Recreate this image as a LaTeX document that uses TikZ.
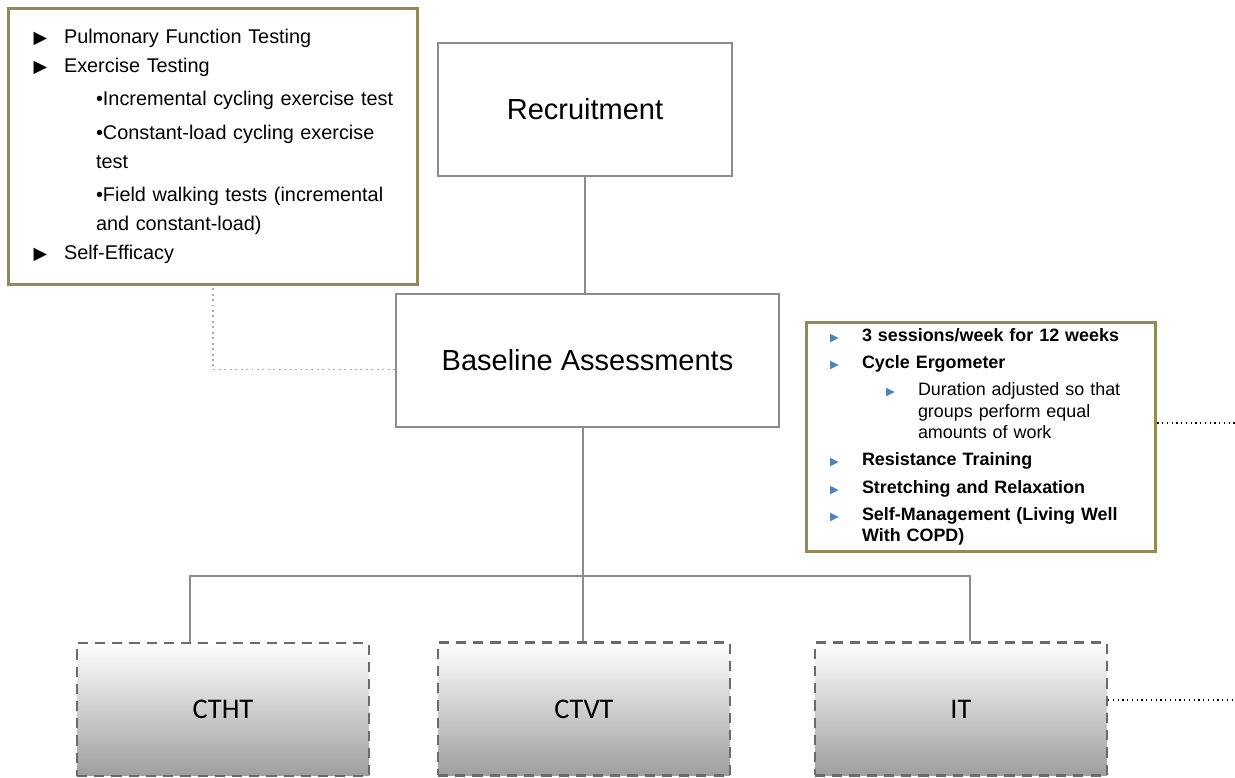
\documentclass[tikz,border=0pt]{standalone}
\usepackage{fontspec}
\setmainfont{Liberation Sans}
\newfontfamily\calibfont{Carlito}
\newfontfamily\symfont{DejaVu Sans}
\definecolor{boxolive}{HTML}{948A54}
\definecolor{boxgray}{HTML}{8C8C8C}
\definecolor{dashgray}{HTML}{6B6B6B}
\definecolor{bulletblue}{HTML}{4F81BD}
\definecolor{dotgray}{HTML}{AAAAAA}
\newcommand{\blacktri}{\makebox[0.77cm][l]{\hspace{0.16cm}{\symfont\fontsize{10}{10}\selectfont ▶}}}
\newcommand{\bluetri}{{\color{bulletblue}\symfont\fontsize{6.5}{6.5}\selectfont ▶}}

\begin{document}
\begin{tikzpicture}[x=0.02cm,y=-0.02cm,
    every node/.style={inner sep=0pt},
    plainbox/.style={draw=boxgray,line width=1.1pt,fill=white,
      font=\fontsize{16.5}{20}\selectfont},
    listbox/.style={draw=boxolive,line width=1.7pt,fill=white,align=left},
    groupbox/.style={draw=dashgray,line width=1.4pt,dash pattern=on 5.8pt off 4pt,
      top color=white,bottom color=black!38,minimum width=5.84cm,minimum height=2.66cm,
      font=\calibfont\fontsize{16.2}{20}\selectfont},
    conn/.style={draw=boxgray,line width=1pt},
    lightdots/.style={draw=dotgray,line width=1.1pt,dotted},
    darkdots/.style={draw=black,line width=0.7pt,dotted}]
  \useasboundingbox (0,0) rectangle (1235,778);
  % boxes
  \draw
    (213,146.5) node[listbox,minimum width=8.2cm,minimum height=5.54cm,text width=7.5cm,
      font=\fontsize{11.3}{16.5}\selectfont] (asmt) {%
      \blacktri Pulmonary Function Testing\\
      \blacktri Exercise Testing\\[2.5pt]
      \hspace*{1.41cm}•Incremental cycling exercise test\\[2.5pt]
      \hspace*{1.41cm}•Constant-load cycling exercise\\
      \hspace*{1.41cm}test\\[2.5pt]
      \hspace*{1.41cm}•Field walking tests (incremental\\
      \hspace*{1.41cm}and constant-load)\\
      \blacktri Self-Efficacy}
    (585,109.5) node[plainbox,minimum width=5.88cm,minimum height=2.66cm] (recr) {Recruitment}
    (587.5,360.5) node[plainbox,minimum width=7.66cm,minimum height=2.66cm] (base) {Baseline Assessments}
    (981,437) node[listbox,minimum width=7cm,minimum height=4.6cm,text width=6.2cm,
      font=\fontsize{10.2}{12.2}\selectfont] (interv) {%
      \makebox[0.72cm][l]{\hspace{0.08cm}\bluetri}\textbf{3 sessions/week for 12 weeks}\\[3.3pt]
      \makebox[0.72cm][l]{\hspace{0.08cm}\bluetri}\textbf{Cycle Ergometer}\\[3.3pt]
      \hspace*{1.2cm}\makebox[0.64cm][l]{\bluetri}Duration adjusted so that\\
      \hspace*{1.84cm}groups perform equal\\
      \hspace*{1.84cm}amounts of work\\[3.3pt]
      \makebox[0.72cm][l]{\hspace{0.08cm}\bluetri}\textbf{Resistance Training}\\[3.3pt]
      \makebox[0.72cm][l]{\hspace{0.08cm}\bluetri}\textbf{Stretching and Relaxation}\\[3.3pt]
      \makebox[0.72cm][l]{\hspace{0.08cm}\bluetri}\textbf{Self-Management (Living Well}\\
      \hspace*{0.72cm}\textbf{With COPD)}}
    (223,709.5) node[groupbox] (ctht) {CTHT}
    (584,709) node[groupbox] (ctvt) {CTVT}
    (961,709) node[groupbox] (it) {IT};
  \coordinate (split) at (583,576);
  \coordinate (ivend) at (1235,423);
  \coordinate (itend) at (1235,700);
  % connectors
  \draw[conn] (recr.south) -- (recr.south |- base.north);
  \draw[conn] (base.south -| split) -- (split);
  \draw[conn] ([xshift=-0.66cm]ctht.north) |- (split) -| ([xshift=0.18cm]it.north);
  \draw[conn] (split) -- (split |- ctvt.north);
  \draw[lightdots] ([yshift=-0.18cm]base.west) -| (asmt.south);
  \draw[darkdots] (interv.east |- ivend) -- (ivend);
  \draw[darkdots] (it.east |- itend) -- (itend);
\end{tikzpicture}
\end{document}
